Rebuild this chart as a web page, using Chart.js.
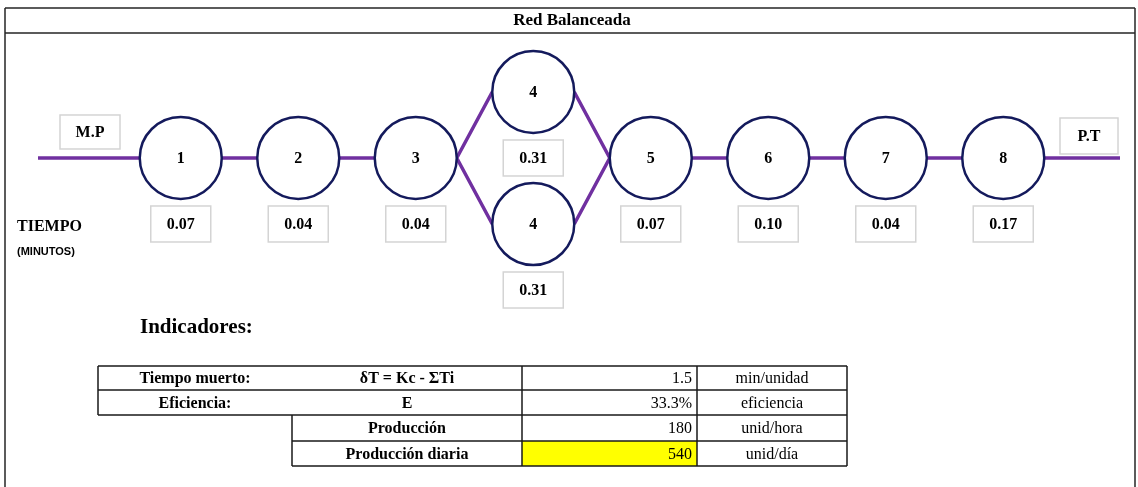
<!DOCTYPE html>
<html>
<head>
<meta charset="utf-8">
<script src="https://cdn.jsdelivr.net/npm/chart.js@4"></script>
<style>
  html, body { margin: 0; padding: 0; background: #ffffff; }
  canvas { display: block; }
</style>
</head>
<body>
<canvas id="red" width="1138" height="487"></canvas>
<script>
// Estaciones de la red balanceada
const stations = ['1', '2', '3', '4', '4', '5', '6', '7', '8']
const stage = [1, 2, 3, 4, 4, 5, 6, 7, 8]
const lane = [0, 0, 0, 1, -1, 0, 0, 0, 0]
const times = [0.07, 0.04, 0.04, 0.31, 0.31, 0.07, 0.10, 0.04, 0.17]
const links = [[0, 1], [1, 2], [2, 3], [2, 4], [3, 5], [4, 5], [5, 6], [6, 7], [7, 8]]

// Indicadores
const indicatorLabels = ['Tiempo muerto:', 'Eficiencia:', '', '']
const indicatorFormulas = ['δT = Kc - ΣTi', 'E', 'Producción', 'Producción diaria']
const indicatorValues = ['1.5', '33.3%', '180', '540']
const indicatorUnits = ['min/unidad', 'eficiencia', 'unid/hora', 'unid/día']

const SERIF = '"Liberation Serif", "Times New Roman", serif'
const NODE_R = 41
const PURPLE = '#7030a0'
const NAVY = '#141a5c'

function textBox(ctx, cx, cy, w, h, txt) {
  ctx.fillStyle = '#ffffff'
  ctx.fillRect(cx - w / 2, cy - h / 2, w, h)
  ctx.strokeStyle = '#d4d4d4'
  ctx.lineWidth = 1.5
  ctx.strokeRect(cx - w / 2, cy - h / 2, w, h)
  ctx.fillStyle = '#000000'
  ctx.textAlign = 'center'
  ctx.textBaseline = 'middle'
  ctx.fillText(txt, cx, cy + 1)
}

const redPlugin = {
  id: 'redBalanceada',
  beforeDatasetsDraw(chart) {
    const ctx = chart.ctx
    const xs = chart.scales.x, ys = chart.scales.y
    const px = i => xs.getPixelForValue(stage[i])
    const py = i => ys.getPixelForValue(lane[i])
    ctx.save()

    // marco y cabecera
    ctx.strokeStyle = '#262626'
    ctx.lineWidth = 1.5
    ctx.beginPath()
    ctx.moveTo(5, 8); ctx.lineTo(1135, 8)
    ctx.moveTo(5, 33); ctx.lineTo(1135, 33)
    ctx.moveTo(5, 8); ctx.lineTo(5, 487)
    ctx.moveTo(1135, 8); ctx.lineTo(1135, 487)
    ctx.stroke()
    ctx.fillStyle = '#000000'
    ctx.font = 'bold 17px ' + SERIF
    ctx.textAlign = 'center'
    ctx.textBaseline = 'middle'
    ctx.fillText('Red Balanceada', 572, 21)

    // conexiones
    ctx.strokeStyle = PURPLE
    ctx.lineWidth = 3.5
    ctx.lineCap = 'butt'
    ctx.beginPath()
    links.forEach(([a, b]) => {
      ctx.moveTo(px(a) + NODE_R, py(a))
      ctx.lineTo(px(b) - NODE_R, py(b))
    })
    const first = 0, last = stations.length - 1
    ctx.moveTo(38, py(first)); ctx.lineTo(px(first) - NODE_R, py(first))
    ctx.moveTo(px(last) + NODE_R, py(last)); ctx.lineTo(1120, py(last))
    ctx.stroke()
    ctx.restore()
  },
  afterDatasetsDraw(chart) {
    const ctx = chart.ctx
    const xs = chart.scales.x, ys = chart.scales.y
    ctx.save()

    // numeros de estacion y tiempos
    ctx.font = 'bold 16px ' + SERIF
    stations.forEach((s, i) => {
      const x = xs.getPixelForValue(stage[i])
      const y = ys.getPixelForValue(lane[i])
      ctx.fillStyle = '#000000'
      ctx.textAlign = 'center'
      ctx.textBaseline = 'middle'
      ctx.fillText(s, x, y + 1)
      textBox(ctx, x, y + 66, 60, 36, times[i].toFixed(2))
    })

    // entrada / salida
    const y0 = ys.getPixelForValue(0)
    textBox(ctx, 90, y0 - 26, 60, 34, 'M.P')
    textBox(ctx, 1089, y0 - 22, 58, 36, 'P.T')

    ctx.fillStyle = '#000000'
    ctx.textAlign = 'left'
    ctx.textBaseline = 'middle'
    ctx.font = 'bold 16px ' + SERIF
    ctx.fillText('TIEMPO', 17, y0 + 69)
    ctx.font = 'bold 11px "Liberation Sans", Arial, sans-serif'
    ctx.fillText('(MINUTOS)', 17, y0 + 94)

    // indicadores
    ctx.font = 'bold 21px ' + SERIF
    ctx.fillText('Indicadores:', 140, 328)

    const cols = [98, 292, 522, 697, 847]
    const rows = [366, 390, 415, 441, 466]
    ctx.fillStyle = '#ffff00'
    ctx.fillRect(cols[2], rows[3], cols[3] - cols[2], rows[4] - rows[3])

    ctx.strokeStyle = '#1a1a1a'
    ctx.lineWidth = 1.5
    ctx.beginPath()
    rows.forEach((r, k) => {
      ctx.moveTo(k <= 2 ? cols[0] : cols[1], r); ctx.lineTo(cols[4], r)
    })
    ctx.moveTo(cols[0], rows[0]); ctx.lineTo(cols[0], rows[2])
    ctx.moveTo(cols[1], rows[2]); ctx.lineTo(cols[1], rows[4])
    ;[2, 3, 4].forEach(c => { ctx.moveTo(cols[c], rows[0]); ctx.lineTo(cols[c], rows[4]) })
    ctx.stroke()

    indicatorValues.forEach((v, k) => {
      const cy = (rows[k] + rows[k + 1]) / 2 + 1
      ctx.fillStyle = '#000000'
      ctx.textBaseline = 'middle'
      ctx.font = 'bold 16px ' + SERIF
      ctx.textAlign = 'center'
      if (indicatorLabels[k]) ctx.fillText(indicatorLabels[k], 195, cy)
      ctx.fillText(indicatorFormulas[k], 407, cy)
      ctx.font = '16px ' + SERIF
      ctx.textAlign = 'right'
      ctx.fillText(v, cols[3] - 5, cy)
      ctx.textAlign = 'center'
      ctx.fillText(indicatorUnits[k], (cols[3] + cols[4]) / 2, cy)
    })
    ctx.restore()
  }
}

new Chart(document.getElementById('red'), {
  type: 'scatter',
  data: {
    datasets: [{
      label: 'Estaciones',
      data: stage.map((s, i) => ({ x: s, y: lane[i] })),
      pointRadius: NODE_R,
      pointHoverRadius: NODE_R,
      pointBackgroundColor: '#ffffff',
      pointBorderColor: NAVY,
      pointBorderWidth: 2.5,
      showLine: false
    }]
  },
  options: {
    responsive: false,
    animation: false,
    layout: { padding: 0, autoPadding: false },
    events: [],
    scales: {
      x: { type: 'linear', display: false, min: -0.5383, max: 9.1468 },
      y: { type: 'linear', display: false, min: -4.9848, max: 2.3939 }
    },
    plugins: {
      legend: { display: false },
      tooltip: { enabled: false },
      title: { display: false }
    }
  },
  plugins: [redPlugin]
})
</script>
</body>
</html>
